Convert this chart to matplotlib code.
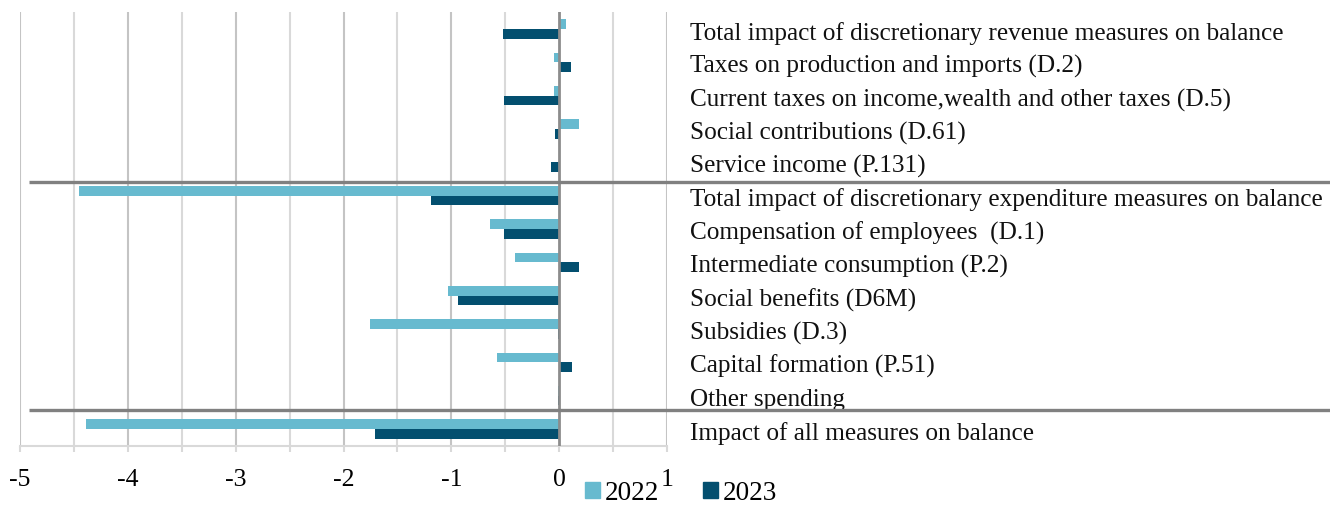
import matplotlib
matplotlib.use("Agg")
import matplotlib.pyplot as plt
import numpy as np
from matplotlib.transforms import blended_transform_factory
from matplotlib.patches import Rectangle

labels = [
    "Total impact of discretionary revenue measures on balance",
    "Taxes on production and imports (D.2)",
    "Current taxes on income,wealth and other taxes (D.5)",
    "Social contributions (D.61)",
    "Service income (P.131)",
    "Total impact of discretionary expenditure measures on balance",
    "Compensation of employees  (D.1)",
    "Intermediate consumption (P.2)",
    "Social benefits (D6M)",
    "Subsidies (D.3)",
    "Capital formation (P.51)",
    "Other spending",
    "Impact of all measures on balance",
]
v2022 = [0.06, -0.05, -0.05, 0.18, 0.0, -4.45, -0.64, -0.41, -1.03, -1.75, -0.58, -0.01, -4.39]
v2023 = [-0.52, 0.11, -0.51, -0.04, -0.08, -1.19, -0.51, 0.18, -0.94, -0.01, 0.12, -0.01, -1.71]
series_names = ["2022", "2023"]
x_ticks = [-5, -4, -3, -2, -1, 0, 1]

c2022 = "#67BACF"
c2023 = "#034F6F"

plt.rcParams['font.family'] = ['Liberation Serif', 'DejaVu Serif']

W, H = 1330, 506
fig = plt.figure(figsize=(W / 100, H / 100), dpi=100)
x0, x1 = 20, 667
yt, yb = 13.3, 446.7
ax = fig.add_axes([x0 / W, 1 - yb / H, (x1 - x0) / W, (yb - yt) / H])

n = len(labels)
y = np.arange(n)
bh = 0.29
ax.barh(y - bh / 2, v2022, height=bh, color=c2022, zorder=2, label=series_names[0])
ax.barh(y + bh / 2, v2023, height=bh, color=c2023, zorder=2, label=series_names[1])

ax.set_xlim(-5, 1)
ax.set_ylim(n - 0.5, -0.5)

# gridlines
for g in np.arange(-5, 1.01, 0.5):
    if abs(g) < 1e-9:
        continue
    col = "#c4c4c4" if abs(g - round(g)) < 1e-9 else "#d9d9d9"
    ax.axvline(g, color=col, lw=1.5, zorder=1)
ax.axvline(0, color="#8c8c8c", lw=2.0, zorder=3)

for s in ["top", "right", "left"]:
    ax.spines[s].set_visible(False)
ax.spines["bottom"].set_color("#d9d9d9")
ax.spines["bottom"].set_linewidth(1.5)

ax.set_xticks(x_ticks)
ax.set_xticks(np.arange(-4.5, 1, 1.0), minor=True)
ax.tick_params(axis="x", which="both", length=4, width=1.5, color="#d9d9d9",
               labelsize=18.5, pad=12)
ax.tick_params(axis="x", which="minor", labelbottom=False)
ax.set_xticklabels([str(t) for t in x_ticks])
ax.set_yticks([])

# category labels on the right
tr = blended_transform_factory(ax.transAxes, ax.transData)
lx = (690 - x0) / (x1 - x0)
for i, lab in enumerate(labels):
    ax.text(lx, i + 0.1, lab, transform=tr, ha="left", va="center",
            fontsize=18.2, color="#111111", clip_on=False)

# separators
sx0 = (28.6 - x0) / (x1 - x0)
sx1 = (1330 - x0) / (x1 - x0)
for sy in [4.59, 11.42]:
    ax.plot([sx0, sx1], [sy, sy], transform=tr, color="#808080", lw=2.4,
            clip_on=False, zorder=4, solid_capstyle="butt")

handles = [Rectangle((0, 0), 1, 1, color=c2022), Rectangle((0, 0), 1, 1, color=c2023)]
fig.legend(handles, series_names, loc="center", bbox_to_anchor=(681 / W, 1 - 494 / H),
           ncol=2, frameon=False, fontsize=19.5, handlelength=0.55, handleheight=0.55,
           handletextpad=0.2, columnspacing=1.6, borderaxespad=0, borderpad=0)

fig.savefig("out.png", dpi=100)
